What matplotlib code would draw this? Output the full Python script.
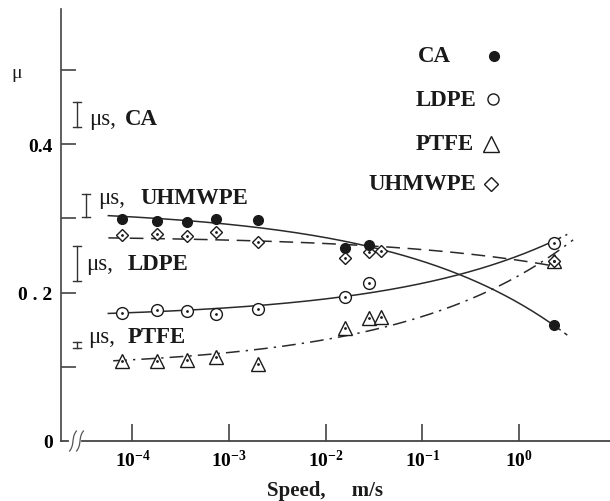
import numpy as np
import matplotlib
matplotlib.use('Agg')
import matplotlib.pyplot as plt
from matplotlib import transforms

plt.rcParams['font.family'] = ['Liberation Serif', 'DejaVu Serif']
plt.rcParams['mathtext.fontset'] = 'custom'
plt.rcParams['mathtext.bf'] = 'Liberation Serif:bold'
plt.rcParams['mathtext.rm'] = 'Liberation Serif'

# ---------------- data ----------------
speed_ca = [7.8e-5, 1.8e-4, 3.7e-4, 7.4e-4, 2.0e-3, 0.016, 0.028, 2.3]
mu_ca = [0.299, 0.296, 0.295, 0.299, 0.298, 0.260, 0.264, 0.156]

speed_uhmwpe = [7.8e-5, 1.8e-4, 3.7e-4, 7.4e-4, 2.0e-3, 0.016, 0.028, 0.037, 2.3]
mu_uhmwpe = [0.278, 0.279, 0.276, 0.282, 0.268, 0.247, 0.255, 0.256, 0.243]

speed_ldpe = [7.8e-5, 1.8e-4, 3.7e-4, 7.4e-4, 2.0e-3, 0.016, 0.028, 2.3]
mu_ldpe = [0.173, 0.177, 0.175, 0.171, 0.178, 0.194, 0.213, 0.267]

speed_ptfe = [7.8e-5, 1.8e-4, 3.7e-4, 7.4e-4, 2.0e-3, 0.016, 0.028, 0.037, 2.3]
mu_ptfe = [0.108, 0.108, 0.109, 0.113, 0.104, 0.152, 0.166, 0.167, 0.243]

# static friction ranges (mu_s)
static_names = ['CA', 'UHMWPE', 'LDPE', 'PTFE']
static_low = [0.423, 0.302, 0.216, 0.125]
static_high = [0.457, 0.333, 0.263, 0.133]

legend_names = ['CA', 'LDPE', 'PTFE', 'UHMWPE']

xtick_vals = [1e-4, 1e-3, 1e-2, 1e-1, 1e0]
xtick_labels = [r'$\mathbf{10^{-4}}$', r'$\mathbf{10^{-3}}$', r'$\mathbf{10^{-2}}$',
                r'$\mathbf{10^{-1}}$', r'$\mathbf{10^{0}}$']
ytick_vals = [0, 0.1, 0.2, 0.3, 0.4, 0.5]
ytick_labels = ['0', '', '0 . 2', '', '0.4', '']

# ---------------- figure ----------------
W, H = 610, 502
fig = plt.figure(figsize=(W / 100, H / 100), dpi=100)
ax_l, ax_r, ax_b, ax_t = 61, 610, 442, 10
ax = fig.add_axes([ax_l / W, (H - ax_b) / H, (ax_r - ax_l) / W, (ax_b - ax_t) / H])
ax.set_xscale('log')
ax.set_xlim(10 ** -4.74, 10 ** 0.942)
ax.set_ylim(0, 0.582)

ink = '#1a1a1a'
lcol = '#2a2a2a'

def px2ax(px, py):
    return (px - ax_l) / (ax_r - ax_l), (ax_b - py) / (ax_b - ax_t)

# fitted curves: least squares  mu = a + b * v**0.25
def fit_curve(sx, sy, t0, t1):
    sx = np.asarray(sx, float)
    A = np.column_stack([np.ones_like(sx), sx ** 0.25])
    coef, *_ = np.linalg.lstsq(A, np.asarray(sy, float), rcond=None)
    v = np.logspace(t0, t1, 200)
    return v, coef[0] + coef[1] * v ** 0.25

lw = 1.1
x, y = fit_curve(speed_ca, mu_ca, -4.25, 0.36)
ax.plot(x, y, color=lcol, lw=lw, zorder=2)
x, y = fit_curve(speed_ca, mu_ca, 0.38, 0.5)
ax.plot(x, y, color=lcol, lw=lw, ls=(0, (4, 3)), zorder=2)

x, y = fit_curve(speed_ldpe, mu_ldpe, -4.25, 0.36)
ax.plot(x, y, color=lcol, lw=lw, zorder=2)
x, y = fit_curve(speed_ldpe, mu_ldpe, 0.38, 0.5)
ax.plot(x, y, color=lcol, lw=lw, ls=(0, (4, 3)), zorder=2)

x, y = fit_curve(speed_uhmwpe, mu_uhmwpe, -4.25, 0.36)
ax.plot(x, y, color=lcol, lw=lw, ls=(0, (9, 5)), zorder=2)

x, y = fit_curve(speed_ptfe, mu_ptfe, -4.2, 0.56)
ax.plot(x, y, color=lcol, lw=lw, ls=(0, (9, 4, 1.5, 4)), zorder=2)

# markers
ax.plot(speed_ca, mu_ca, 'o', ms=7, color=ink, mec=ink, zorder=5, ls='none')
for sx, sy, mk, ms in [(speed_ldpe, mu_ldpe, 'o', 8.5),
                       (speed_ptfe, mu_ptfe, '^', 10),
                       (speed_uhmwpe, mu_uhmwpe, 'D', 6.5)]:
    ax.plot(sx, sy, mk, ms=ms, mfc='white', mec=ink, mew=1.0, zorder=4, ls='none')
    ax.plot(sx, sy, '.', ms=2.0, color=ink, zorder=6, ls='none')

# ---------------- axes styling ----------------
for s in ['top', 'right', 'bottom']:
    ax.spines[s].set_visible(False)
ax.spines['left'].set_color('#444444')
ax.spines['left'].set_linewidth(1.2)

ax.set_xticks(xtick_vals)
ax.set_xticklabels(xtick_labels, fontsize=14)
ax.xaxis.set_minor_locator(matplotlib.ticker.NullLocator())
ax.tick_params(axis='x', direction='in', length=12, width=1.2, color='#444444', pad=6)
ax.set_yticks(ytick_vals)
ax.set_yticklabels(ytick_labels, fontsize=14, fontweight='bold')
ax.tick_params(axis='y', direction='in', length=10.5, width=1.2, color='#444444', pad=6)
ax.yaxis.get_major_ticks()[0].tick1line.set_visible(False)

# broken x axis line
a0 = px2ax(ax_l, ax_b)
a1 = px2ax(68, ax_b)
a2 = px2ax(82, ax_b)
ax.plot([a0[0], a1[0]], [0, 0], color='#444444', lw=1.3, transform=ax.transAxes, clip_on=False)
ax.plot([a2[0], 1.0], [0, 0], color='#444444', lw=1.3, transform=ax.transAxes, clip_on=False)
tt = np.linspace(-1, 1, 40)
for cx in [73, 80]:
    bx = cx + 2.2 * tt ** 3 + 1.2 * tt
    by = ax_b - 10 * tt
    axx, axy = px2ax(bx, by)
    ax.plot(axx, axy, color='#555555', lw=0.9, transform=ax.transAxes, clip_on=False)

# ---------------- static friction bars ----------------
blend = transforms.blended_transform_factory(ax.transAxes, ax.transData)
bar_px = [77, 86, 77, 77]
text_px = [89, 98, 86, 88]
name_px = [125, 140, 128, 128]
text_y = [0.435, 0.328, 0.239, 0.141]
for i, nm in enumerate(static_names):
    bx = (bar_px[i] - ax_l) / (ax_r - ax_l)
    cw = 4 / (ax_r - ax_l)
    ax.plot([bx, bx], [static_low[i], static_high[i]], color='#333333', lw=1.0,
            transform=blend, clip_on=False)
    for yy in (static_low[i], static_high[i]):
        ax.plot([bx - cw, bx + cw], [yy, yy], color='#333333', lw=1.0,
                transform=blend, clip_on=False)
    ax.text((text_px[i] - ax_l) / (ax_r - ax_l), text_y[i], 'μs,', transform=blend,
            fontsize=16.5, ha='left', va='center', color=ink)
    ax.text((name_px[i] - ax_l) / (ax_r - ax_l), text_y[i], nm, transform=blend,
            fontsize=16.5, fontweight='bold', ha='left', va='center', color=ink)

# ---------------- legend ----------------
leg_text_px = [(434, 57, 'center'), (477, 100, 'right'), (474, 145, 'right'), (476, 185, 'right')]
leg_mark_px = [(494, 57), (493, 100), (491, 145), (491, 185)]
leg_styles = [dict(marker='o', ms=7, mfc=ink, mec=ink),
              dict(marker='o', ms=8, mfc='white', mec=ink, mew=1.0),
              dict(marker='^', ms=11, mfc='white', mec=ink, mew=1.0),
              dict(marker='D', ms=7, mfc='white', mec=ink, mew=1.0)]
for (tx, ty, ha), (mx, my), st, nm in zip(leg_text_px, leg_mark_px, leg_styles, legend_names):
    axx, axy = px2ax(tx, ty)
    ax.text(axx, axy, nm, transform=ax.transAxes, fontsize=16.5, fontweight='bold',
            ha=ha, va='center', color=ink)
    mxa, mya = px2ax(mx, my)
    ax.plot([mxa], [mya], transform=ax.transAxes, clip_on=False, ls='none', **st)

# ---------------- axis labels ----------------
fig.text(17 / W, (H - 73) / H, 'μ', fontsize=14, ha='center', va='center', color=ink)
fig.text(325 / W, (H - 491) / H, 'Speed,     m/s', fontsize=15, fontweight='bold',
         ha='center', va='center', color=ink)

fig.savefig('out.png', dpi=100)
